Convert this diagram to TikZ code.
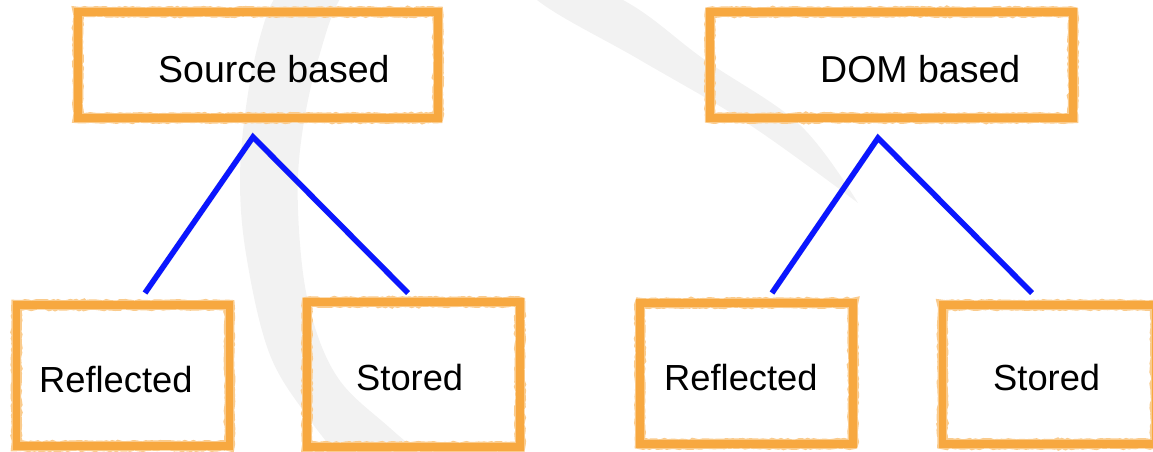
\documentclass[tikz,border=0pt]{standalone}
\usepackage{fontspec}
\setmainfont{Liberation Sans}
\usetikzlibrary{decorations.pathmorphing}
\definecolor{boxor}{RGB}{247,168,64}
\definecolor{lineblue}{RGB}{10,22,255}
\definecolor{swoosh}{RGB}{242,242,242}
\begin{document}
\begin{tikzpicture}[x=1pt,y=-1pt,
  obox/.style={rectangle, draw=boxor, line width=7.5pt, inner sep=0pt, outer sep=0pt,
    preaction={draw=boxor!60, line width=10.5pt, decorate,
      decoration={random steps, segment length=3pt, amplitude=0.8pt}}},
  toplbl/.style={inner sep=0pt, anchor=base west, font=\fontsize{37.5}{40}\selectfont},
  botlbl/.style={inner sep=0pt, anchor=base west, font=\fontsize{36.3}{40}\selectfont},
  branch/.style={draw=lineblue, line width=5.5pt},
  branchshadow/.style={draw=black, opacity=0.12, line width=6pt}]
\useasboundingbox (0,0) rectangle (1153,451);
% background swoosh
\begin{scope}
\clip (0,0) rectangle (1153,451);
\fill[swoosh] plot[smooth, tension=0.6] coordinates {(350,470) (310,420) (270,355) (247,260) (240,180) (247,100) (262,30) (280,-10) (330,-70) (420,-95) (500,-50) (537,0) (640,60) (750,125) (858,203)}
  -- plot[smooth, tension=0.6] coordinates {(858,203) (800,125) (705,60) (623,0) (520,-40) (420,-50) (350,-15) (318,60) (300,150) (299,230) (310,310) (338,378) (390,428) (440,470)} -- cycle;
\end{scope}
% boxes
\node[obox, minimum width=360pt, minimum height=106pt] (src) at (258,65) {};
\node[obox, minimum width=363pt, minimum height=106pt] (dom) at (891.5,65) {};
\node[obox, minimum width=213pt, minimum height=141pt] (refL) at (123,375.5) {};
\node[obox, minimum width=213pt, minimum height=145pt] (stoL) at (413.5,374.5) {};
\node[obox, minimum width=213pt, minimum height=141pt] (refR) at (746.5,373.5) {};
\node[obox, minimum width=213pt, minimum height=139pt] (stoR) at (1049,374.5) {};
% labels
\node[toplbl] (srct) at (158,82) {Source based};
\node[toplbl] (domt) at (820,82) {DOM based};
\node[botlbl] (refLt) at (39,392) {Reflected};
\node[botlbl] (stoLt) at (356,390) {Stored};
\node[botlbl] (refRt) at (664,390) {Reflected};
\node[botlbl] (stoRt) at (993,390) {Stored};
% branch points
\coordinate (a1) at (253,137);
\coordinate (l1) at (145,293);
\coordinate (r1) at (408,293);
\coordinate (a2) at (878,138);
\coordinate (l2) at (772,293);
\coordinate (r2) at (1032,293);
\begin{scope}[shift={(1.5,2)}]
\draw[branchshadow] (l1) -- (a1) -- (r1);
\draw[branchshadow] (l2) -- (a2) -- (r2);
\end{scope}
\draw[branch] (l1) -- (a1) -- (r1);
\draw[branch] (l2) -- (a2) -- (r2);
\end{tikzpicture}
\end{document}
